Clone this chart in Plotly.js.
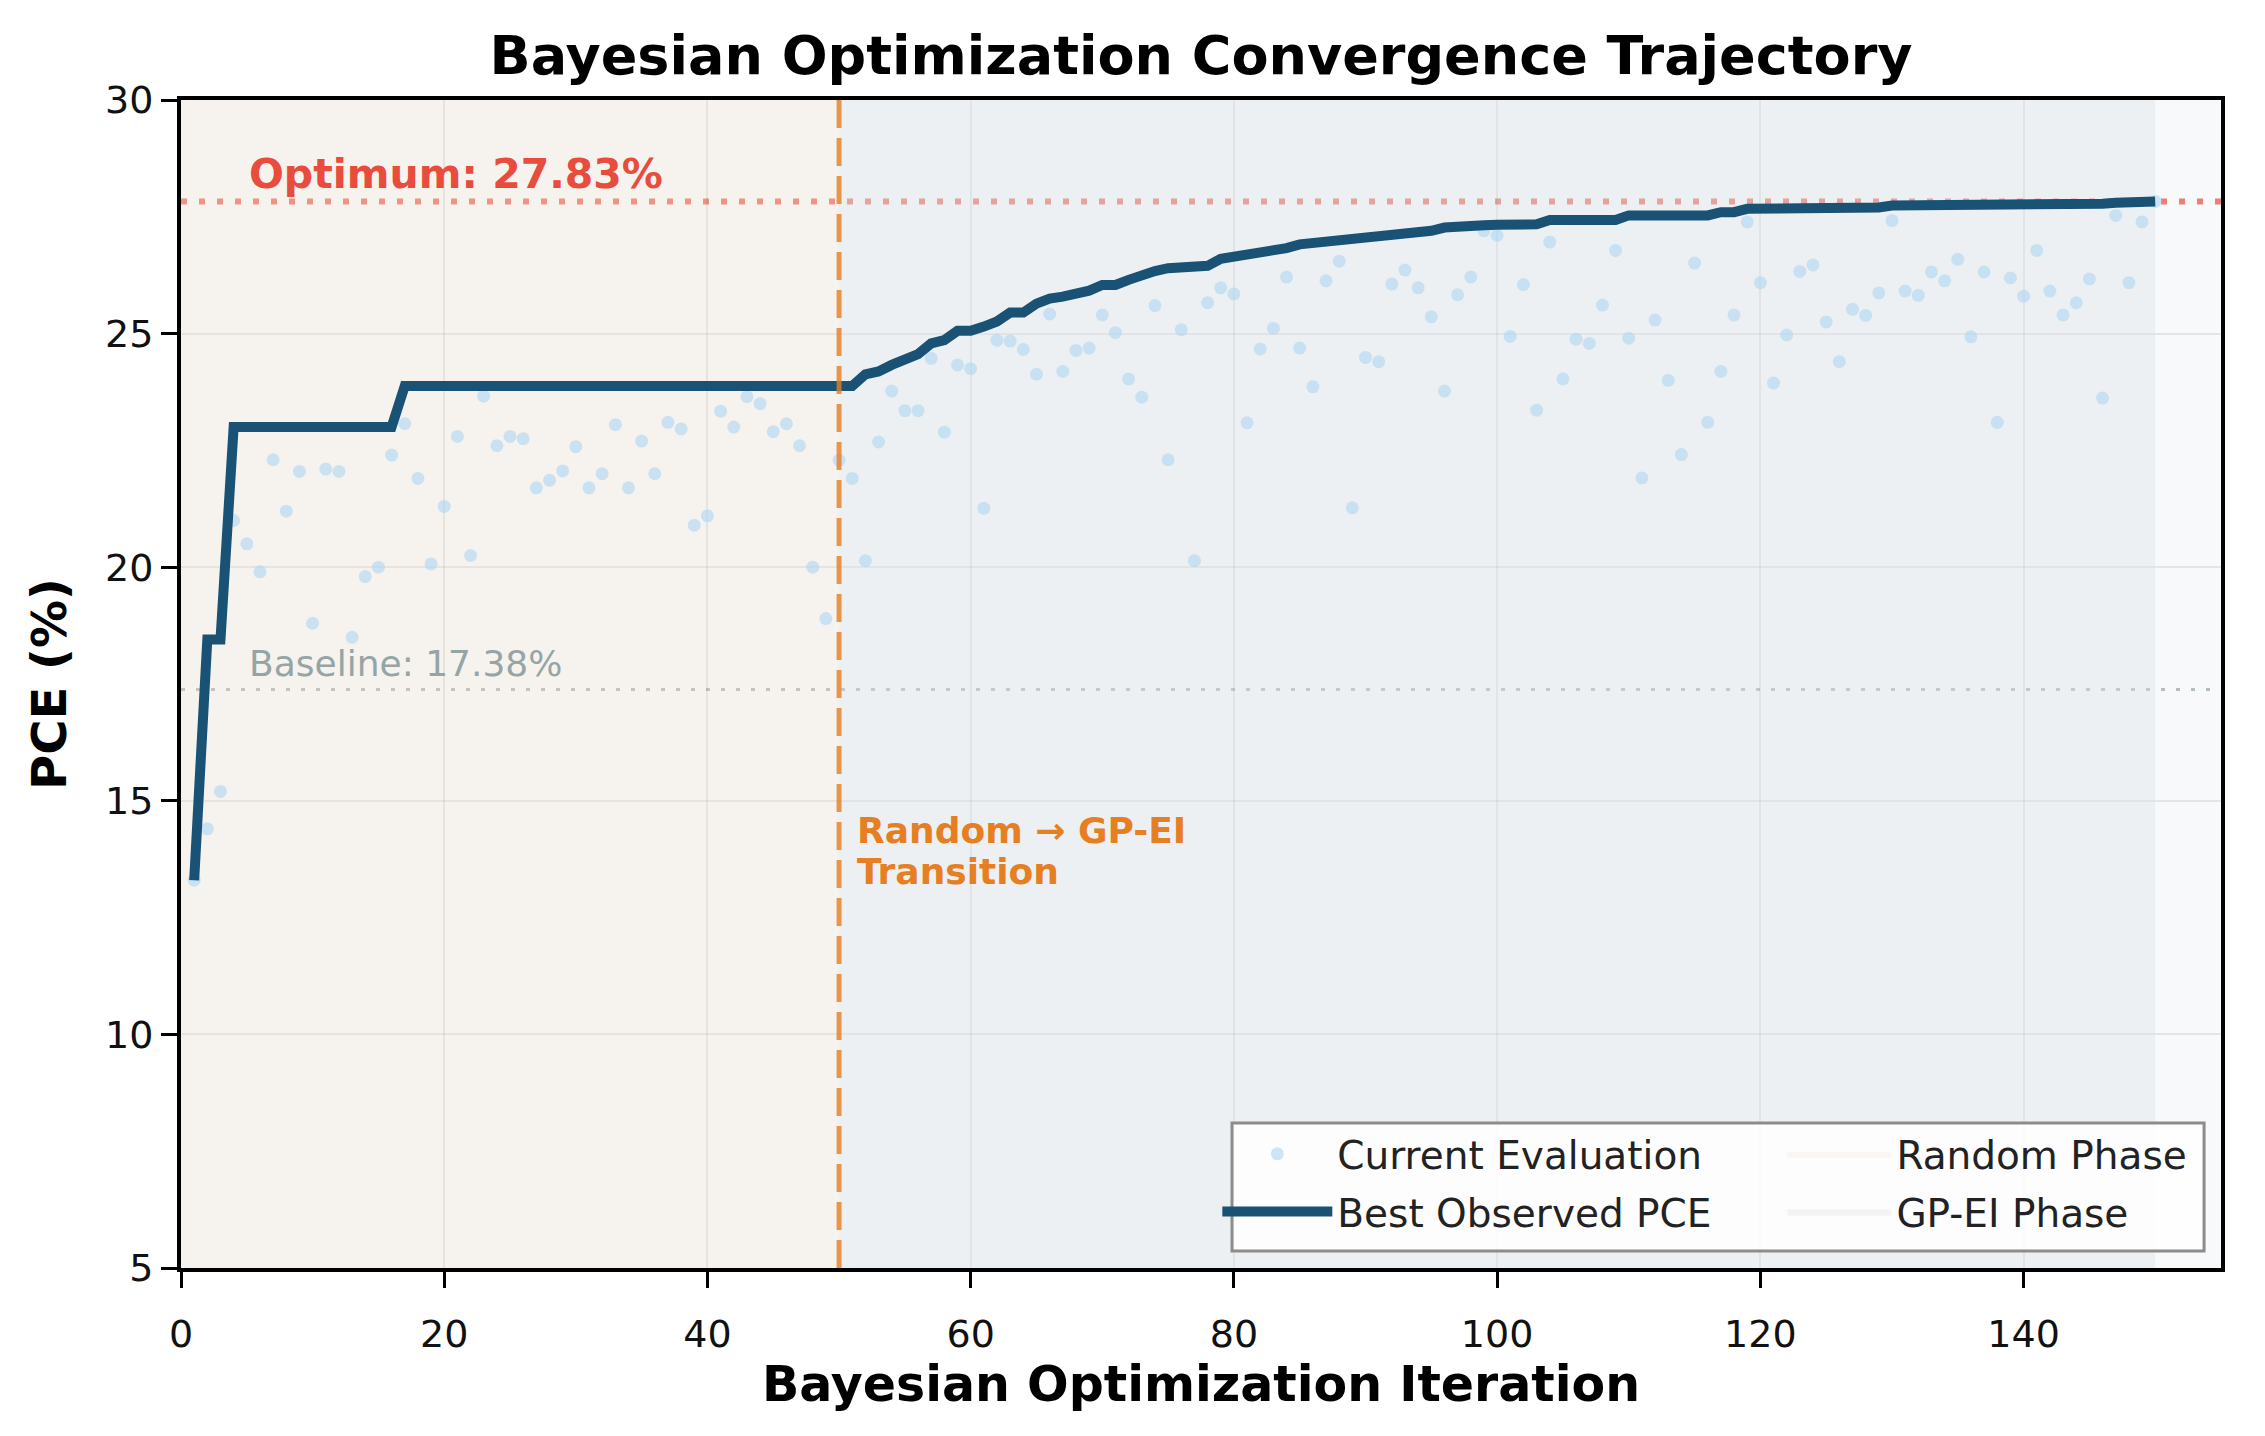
<!DOCTYPE html>
<html>
<head>
<meta charset="utf-8">
<script src="https://cdn.plot.ly/plotly-3.0.1.min.js"></script>
<style>
  html, body { margin: 0; padding: 0; background: #fff; }
  #chart { width: 2265px; height: 1436px; }
</style>
</head>
<body>
<div id="chart"></div>
<script>
// PCE of each evaluation, iterations 1..150
var pceValues = [
  13.3, 14.4, 15.2, 21.0, 20.5, 19.9, 22.3, 21.2, 22.05, 18.8,
  22.1, 22.05, 18.5, 19.8, 20.0, 22.4, 23.07, 21.9, 20.07, 21.3,
  22.8, 20.25, 23.66, 22.6, 22.8, 22.75, 21.7, 21.86, 22.06, 22.58,
  21.7, 22.0, 23.05, 21.7, 22.7, 22.0, 23.1, 22.96, 20.9, 21.1,
  23.34, 23.0, 23.65, 23.5, 22.9, 23.07, 22.6, 20.0, 18.9, 22.29,
  21.9, 20.14, 22.68, 23.77, 23.35, 23.35, 24.47, 22.89, 24.33, 24.25,
  21.26, 24.86, 24.84, 24.66, 24.13, 25.42, 24.19, 24.64, 24.69, 25.4,
  25.02, 24.03, 23.64, 25.6, 22.3, 25.08, 20.14, 25.66, 25.98, 25.85,
  23.09, 24.67, 25.11, 26.21, 24.69, 23.86, 26.13, 26.55, 21.27, 24.49,
  24.4, 26.06, 26.36, 25.98, 25.36, 23.77, 25.83, 26.21, 27.2, 27.1,
  24.94, 26.05, 23.36, 26.96, 24.03, 24.88, 24.79, 25.61, 26.78, 24.9,
  21.91, 25.29, 24.0, 22.41, 26.51, 23.1, 24.19, 25.4, 27.39, 26.09,
  23.94, 24.97, 26.33, 26.47, 25.25, 24.4, 25.52, 25.39, 25.87, 27.42,
  25.91, 25.82, 26.32, 26.13, 26.59, 24.93, 26.32, 23.1, 26.19, 25.8,
  26.78, 25.91, 25.4, 25.66, 26.17, 23.62, 27.53, 26.09, 27.39, 27.83
];

// best observed PCE so far, as drawn in the figure
var bestPCE = [
  13.3, 18.45, 18.45, 23.0, 23.0, 23.0, 23.0, 23.0, 23.0, 23.0,
  23.0, 23.0, 23.0, 23.0, 23.0, 23.0, 23.88, 23.88, 23.88, 23.88,
  23.88, 23.88, 23.88, 23.88, 23.88, 23.88, 23.88, 23.88, 23.88, 23.88,
  23.88, 23.88, 23.88, 23.88, 23.88, 23.88, 23.88, 23.88, 23.88, 23.88,
  23.88, 23.88, 23.88, 23.88, 23.88, 23.88, 23.88, 23.88, 23.88, 23.88,
  23.88, 24.13, 24.19, 24.33, 24.45, 24.56, 24.79, 24.86, 25.06, 25.06,
  25.15, 25.26, 25.45, 25.45, 25.64, 25.75, 25.79, 25.83, 25.92, 26.04,
  26.04, 26.15, 26.27, 26.34, 26.4, 26.43, 26.43, 26.45, 26.6, 26.64,
  26.67, 26.72, 26.79, 26.83, 26.91, 26.94, 26.94, 26.96, 27.02, 27.04,
  27.05, 27.08, 27.1, 27.15, 27.2, 27.27, 27.3, 27.32, 27.32, 27.33,
  27.33, 27.34, 27.34, 27.43, 27.43, 27.43, 27.43, 27.43, 27.43, 27.53,
  27.53, 27.53, 27.53, 27.53, 27.53, 27.53, 27.6, 27.6, 27.67, 27.67,
  27.67, 27.67, 27.67, 27.67, 27.7, 27.7, 27.7, 27.7, 27.7, 27.74,
  27.74, 27.74, 27.74, 27.74, 27.78, 27.78, 27.78, 27.78, 27.78, 27.78,
  27.78, 27.78, 27.78, 27.78, 27.78, 27.78, 27.8, 27.8, 27.8, 27.83
];

var iterations = pceValues.map(function(v, i) { return i + 1; });

var optimumPCE = 27.83;
var baselinePCE = 17.38;
var transitionIter = 50;
var lastIter = 150;
var xTicks = [0, 20, 40, 60, 80, 100, 120, 140];
var yTicks = [5, 10, 15, 20, 25, 30];
var xRange = [0, 155];
var yRange = [5, 30];

var FONT = "DejaVu Sans, Verdana, sans-serif";

var randomPhase = {
  x: [0, transitionIter, transitionIter, 0, 0],
  y: [yRange[0], yRange[0], yRange[1], yRange[1], yRange[0]],
  type: 'scatter', mode: 'lines', fill: 'toself',
  fillcolor: 'rgba(240,222,200,0.22)', line: {width: 0},
  name: 'Random Phase', legend: 'legend2', legendgroup: 'r'
};

var gpPhase = {
  x: [transitionIter, lastIter, lastIter, transitionIter, transitionIter],
  y: [yRange[0], yRange[0], yRange[1], yRange[1], yRange[0]],
  type: 'scatter', mode: 'lines', fill: 'toself',
  fillcolor: 'rgba(220,224,229,0.36)', line: {width: 0},
  name: 'GP-EI Phase', legend: 'legend2', legendgroup: 'g'
};

var evals = {
  x: iterations, y: pceValues,
  type: 'scatter', mode: 'markers',
  marker: {size: 13, color: '#aed6f1', opacity: 0.6},
  name: 'Current Evaluation', legendgroup: 'e'
};

var best = {
  x: iterations, y: bestPCE,
  type: 'scatter', mode: 'lines',
  line: {color: '#1a5276', width: 10},
  name: 'Best Observed PCE', legendgroup: 'b'
};

var data = [randomPhase, gpPhase, evals, best];

var legendBase = {
  bgcolor: 'rgba(0,0,0,0)', borderwidth: 0,
  font: {family: FONT, size: 39, color: '#222'},
  yanchor: 'top', xanchor: 'left', y: 0.125,
  tracegroupgap: 4
};

var layout = {
  width: 2265, height: 1436,
  paper_bgcolor: '#ffffff',
  plot_bgcolor: '#f8f9fa',
  margin: {l: 181, r: 44, t: 100, b: 168},
  title: {
    text: 'Bayesian Optimization Convergence Trajectory',
    font: {family: FONT, size: 54, weight: 'bold', color: '#000'},
    x: 0.5, xref: 'paper', xanchor: 'center',
    y: 1 - 55 / 1436, yref: 'container', yanchor: 'middle'
  },
  xaxis: {
    range: xRange, tickvals: xTicks,
    showgrid: true, gridcolor: 'rgba(0,0,0,0.08)', gridwidth: 2,
    zeroline: false,
    showline: true, mirror: true, linecolor: '#000', linewidth: 4,
    ticks: 'outside', ticklen: 16, tickwidth: 3, tickcolor: '#000',
    ticklabelstandoff: 13,
    tickfont: {family: FONT, size: 38, color: '#111'},
    title: {text: 'Bayesian Optimization Iteration', standoff: 12,
      font: {family: FONT, size: 49, weight: 'bold', color: '#000'}}
  },
  yaxis: {
    range: yRange, tickvals: yTicks,
    showgrid: true, gridcolor: 'rgba(0,0,0,0.08)', gridwidth: 2,
    zeroline: false,
    showline: true, mirror: true, linecolor: '#000', linewidth: 4,
    ticks: 'outside', ticklen: 16, tickwidth: 3, tickcolor: '#000',
    tickfont: {family: FONT, size: 38, color: '#111'},
    title: {text: 'PCE (%)', standoff: 24,
      font: {family: FONT, size: 48, weight: 'bold', color: '#000'}}
  },
  showlegend: true,
  legend: Object.assign({}, legendBase, {x: 0.508, itemwidth: 110}),
  legend2: Object.assign({}, legendBase, {x: 0.785, itemwidth: 104}),
  shapes: [
    {type: 'line', xref: 'paper', x0: 0, x1: 1, yref: 'y', y0: optimumPCE, y1: optimumPCE,
      line: {color: 'rgba(231,76,60,0.7)', width: 6, dash: '6px,12px'}, layer: 'between'},
    {type: 'line', xref: 'paper', x0: 0, x1: 1, yref: 'y', y0: baselinePCE, y1: baselinePCE,
      line: {color: 'rgba(149,165,166,0.7)', width: 3, dash: '4px,11px'}, layer: 'between'},
    {type: 'line', xref: 'x', x0: transitionIter, x1: transitionIter, yref: 'paper', y0: 0, y1: 1,
      line: {color: 'rgba(230,126,34,0.8)', width: 5, dash: '28px,10px'}, layer: 'above'},
    // legend frame
    {type: 'rect', xref: 'paper', yref: 'paper', x0: 0.5152, x1: 0.9917, y0: 0.0146, y1: 0.1241,
      fillcolor: 'rgba(255,255,255,0.85)', line: {color: '#8c8c8c', width: 3}, layer: 'above'}
  ],
  annotations: [
    {x: 5, y: optimumPCE, xref: 'x', yref: 'y', xanchor: 'left', yanchor: 'bottom', yshift: 1,
      text: 'Optimum: ' + optimumPCE.toFixed(2) + '%', showarrow: false,
      font: {family: FONT, size: 41, weight: 'bold', color: '#e74c3c'}},
    {x: 5, y: baselinePCE, xref: 'x', yref: 'y', xanchor: 'left', yanchor: 'bottom', yshift: 4,
      text: 'Baseline: ' + baselinePCE.toFixed(2) + '%', showarrow: false,
      font: {family: FONT, size: 36, color: '#95a5a6'}},
    {x: transitionIter + 1.2, y: 14.37, xref: 'x', yref: 'y', xanchor: 'left', yanchor: 'middle',
      text: 'Random \u2192 GP-EI', showarrow: false,
      font: {family: FONT, size: 36, weight: 'bold', color: '#e67e22'}},
    {x: transitionIter + 1.2, y: 13.49, xref: 'x', yref: 'y', xanchor: 'left', yanchor: 'middle',
      text: 'Transition', showarrow: false,
      font: {family: FONT, size: 36, weight: 'bold', color: '#e67e22'}}
  ]
};

Plotly.newPlot(document.getElementById('chart'), data, layout, {staticPlot: true});
</script>
</body>
</html>
